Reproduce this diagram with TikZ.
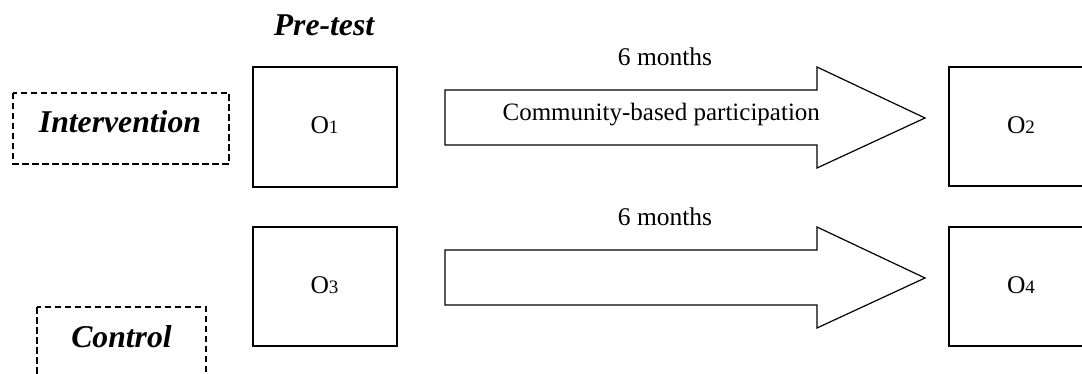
\documentclass[tikz,border=0pt]{standalone}
\usepackage{fontspec}
\setmainfont{Liberation Serif}
\begin{document}
\begin{tikzpicture}[x=1pt,y=-1pt,
  line width=1.2pt,
  obsbox/.style={draw,line width=1.3pt},
  groupbox/.style={draw,line width=1.1pt,dash pattern=on 6.5pt off 3.5pt},
  grouplabel/.style={font=\fontsize{31.7}{36}\selectfont\bfseries\itshape,inner sep=0pt,anchor=base},
  plainlabel/.style={font=\fontsize{25.5}{30}\selectfont,inner sep=0pt,anchor=base},
  blockarrow/.style={draw,line width=1.2pt,line join=miter,fill=white}]
\useasboundingbox (0,0) rectangle (1082,374);
\clip (0,0) rectangle (1082,374);

% column heading
\node[grouplabel] (pretest) at (324,36) {Pre-test};

% group labels in dashed frames
\draw[groupbox] (13,93) rectangle (229,164);
\node[grouplabel] (interv) at (120,133) {Intervention};
\draw[groupbox] (37,307) rectangle (206,390);
\node[grouplabel] (control) at (121.5,347) {Control};

% observation boxes
\newcommand{\obs}[1]{O{\fontsize{19}{22}\selectfont #1}}
\draw[obsbox] (253,67) rectangle (397,187);
\node[plainlabel] (o1) at (324.5,134) {\obs{1}};
\draw[obsbox] (253,227) rectangle (397,346);
\node[plainlabel] (o3) at (324.5,293) {\obs{3}};
\draw[obsbox] (949,67) rectangle (1093,186);
\node[plainlabel] (o2) at (1021,134) {\obs{2}};
\draw[obsbox] (949,227) rectangle (1093,346);
\node[plainlabel] (o4) at (1021,293) {\obs{4}};

% block arrows between pre-test and post-test
\draw[blockarrow] (445,90) -- (817,90) -- (817,67) -- (925,118)
  -- (817,168) -- (817,145) -- (445,145) -- cycle;
\draw[blockarrow] (445,250) -- (817,250) -- (817,227) -- (925,278)
  -- (817,328) -- (817,305) -- (445,305) -- cycle;

% arrow labels
\node[plainlabel] (dur1) at (665,66) {6 months};
\node[plainlabel] (dur2) at (665,226) {6 months};
\node[plainlabel,font=\fontsize{25}{30}\selectfont,anchor=base west] (cbp) at (502,121) {Community-based participation};
\end{tikzpicture}
\end{document}
